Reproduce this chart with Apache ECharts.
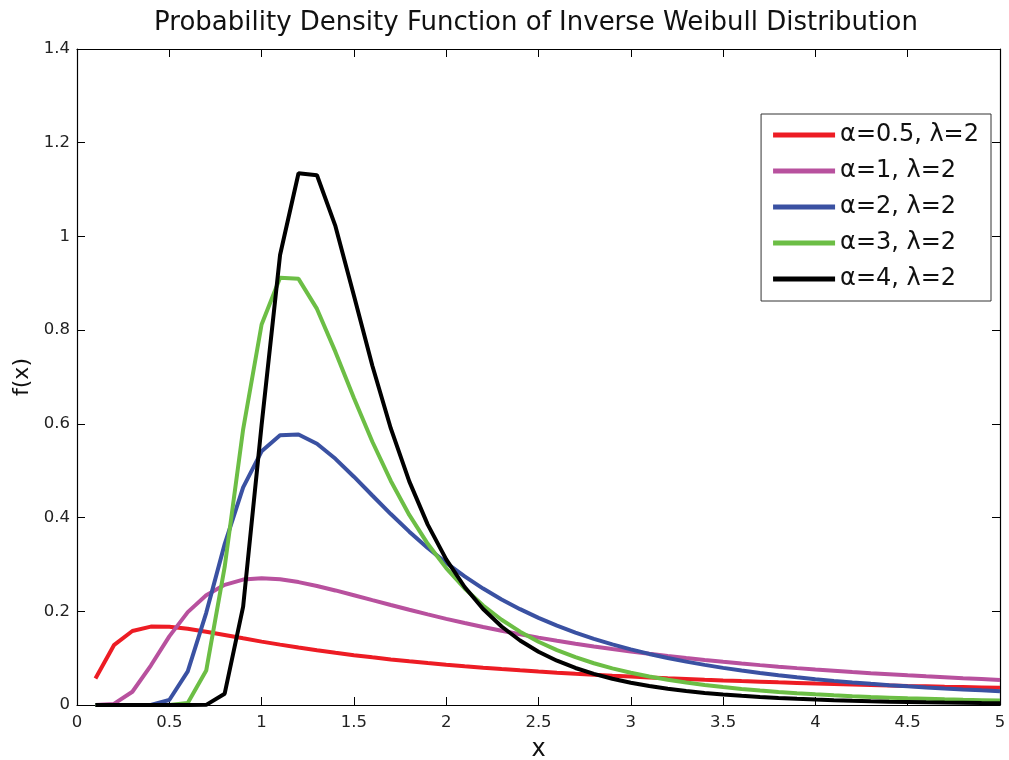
<!DOCTYPE html>
<html>
<head>
<meta charset="utf-8">
<script src="https://cdn.jsdelivr.net/npm/echarts@6/dist/echarts.min.js"></script>
<style>html,body{margin:0;padding:0;background:#fff}#c{width:1009px;height:760px}</style>
</head>
<body>
<div id="c"></div>
<script>
var xs = [0.1,0.2,0.3,0.4,0.5,0.6,0.7,0.8,0.9,1.0,1.1,1.2,1.3,1.4,1.5,1.6,1.7,1.8,1.9,2.0,2.1,2.2,2.3,2.4,2.5,2.6,2.7,2.8,2.9,3.0,3.1,3.2,3.3,3.4,3.5,3.6,3.7,3.8,3.9,4.0,4.1,4.2,4.3,4.4,4.5,4.6,4.7,4.8,4.9,5.0];
var seriesNames = ['\u03b1=0.5, \u03bb=2','\u03b1=1, \u03bb=2','\u03b1=2, \u03bb=2','\u03b1=3, \u03bb=2','\u03b1=4, \u03bb=2'];
var redVals = [0.0567,0.1277,0.1579,0.1673,0.1672,0.1627,0.1564,0.1494,0.1423,0.1353,0.1288,0.1226,0.1168,0.1113,0.1063,0.1017,0.0973,0.0932,0.0895,0.0860,0.0827,0.0796,0.0767,0.0740,0.0714,0.0690,0.0667,0.0646,0.0626,0.0607,0.0588,0.0571,0.0555,0.0539,0.0524,0.0510,0.0497,0.0484,0.0472,0.0460,0.0450,0.0438,0.0427,0.0418,0.0408,0.0399,0.0390,0.0382,0.0374,0.0366];
var pinkVals = [0.0000,0.0023,0.0283,0.0842,0.1465,0.1982,0.2344,0.2565,0.2676,0.2707,0.2683,0.2623,0.2541,0.2445,0.2343,0.2238,0.2134,0.2032,0.1934,0.1839,0.1750,0.1665,0.1585,0.1509,0.1438,0.1371,0.1308,0.1249,0.1193,0.1141,0.1092,0.1045,0.1002,0.0961,0.0922,0.0885,0.0851,0.0818,0.0787,0.0758,0.0731,0.0704,0.0679,0.0656,0.0633,0.0612,0.0592,0.0572,0.0554,0.0536];
var blueVals = [0,0,0,0.0002,0.0107,0.0716,0.1968,0.3433,0.4645,0.5413,0.5756,0.5773,0.5575,0.5254,0.4872,0.4471,0.4075,0.3700,0.3351,0.3033,0.2744,0.2485,0.2253,0.2045,0.1859,0.1693,0.1545,0.1412,0.1293,0.1186,0.1090,0.1004,0.0926,0.0856,0.0792,0.0735,0.0682,0.0635,0.0591,0.0552,0.0515,0.0482,0.0452,0.0423,0.0398,0.0374,0.0352,0.0332,0.0313,0.0295];
var greenVals = [0,0,0,0,0.0000,0.0044,0.0734,0.2946,0.5884,0.8120,0.9120,0.9095,0.8453,0.7536,0.6553,0.5618,0.4781,0.4056,0.3440,0.2921,0.2486,0.2123,0.1819,0.1565,0.1351,0.1172,0.1020,0.0891,0.0782,0.0688,0.0608,0.0538,0.0479,0.0427,0.0382,0.0342,0.0308,0.0277,0.0251,0.0227,0.0206,0.0188,0.0171,0.0157,0.0143,0.0132,0.0121,0.0111,0.0103,0.0094];
var blackVals = [0,0,0,0,0,0,0.0003,0.0241,0.2100,0.5974,0.9603,1.1349,1.1305,1.0219,0.8737,0.7241,0.5902,0.4772,0.3850,0.3109,0.2518,0.2049,0.1675,0.1377,0.1138,0.0946,0.0790,0.0664,0.0561,0.0476,0.0406,0.0348,0.0299,0.0258,0.0224,0.0195,0.0170,0.0149,0.0131,0.0116,0.0102,0.0091,0.0081,0.0072,0.0065,0.0058,0.0052,0.0047,0.0042,0.0038];
var colors = ['#ED1C24','#B8519E','#3A51A2','#6CBE45','#000000'];
var allVals = [redVals,pinkVals,blueVals,greenVals,blackVals];

function pairs(v){ return xs.map(function(x,i){ return [x, v[i]]; }); }
var FONT = '"DejaVu Sans", "Liberation Sans", Arial, sans-serif';
var chart = echarts.init(document.getElementById('c'), null, {renderer:'canvas'});
var baseAxis = {
  axisLine:{show:true, onZero:false, lineStyle:{color:'#000', width:1.2}},
  axisTick:{show:true, inside:true, length:8, lineStyle:{color:'#000', width:1}},
  splitLine:{show:false}
};
var option = {
  backgroundColor:'#fff',
  animation:false,
  title:{text:'Probability Density Function of Inverse Weibull Distribution', left:531, textAlign:'center', top:5,
    textStyle:{fontFamily:FONT, fontSize:26, fontWeight:'normal', color:'#111'}},
  grid:{left:77, right:9, top:49, bottom:55, containLabel:false, outerBoundsMode:'none'},
  legend:{
    orient:'vertical', right:18, top:114, padding:[8,12,9,12],
    backgroundColor:'#fff', borderColor:'#333', borderWidth:1, borderRadius:0,
    itemWidth:62, itemHeight:5, itemGap:10, icon:'rect',
    textStyle:{fontFamily:FONT, fontSize:24, color:'#111', lineHeight:26},
    data:seriesNames
  },
  xAxis:[
    Object.assign({type:'value', min:0, max:5, interval:0.5, position:'bottom',
      name:'x', nameLocation:'middle', nameGap:33,
      nameTextStyle:{fontFamily:FONT, fontSize:24, color:'#111'},
      axisLabel:{fontFamily:FONT, fontSize:16.5, color:'#222', margin:9}}, baseAxis),
    Object.assign({type:'value', min:0, max:5, interval:0.5, position:'top', axisLabel:{show:false}}, baseAxis)
  ],
  yAxis:[
    Object.assign({type:'value', min:0, max:1.4, interval:0.2, position:'left',
      name:'f(x)', nameLocation:'middle', nameGap:42, nameRotate:90,
      nameTextStyle:{fontFamily:FONT, fontSize:22, color:'#111'},
      axisLabel:{fontFamily:FONT, fontSize:16.5, color:'#222', margin:7}}, baseAxis),
    Object.assign({type:'value', min:0, max:1.4, interval:0.2, position:'right', axisLabel:{show:false}}, baseAxis)
  ],
  series: seriesNames.map(function(n,i){
    return {name:n, type:'line', data:pairs(allVals[i]), showSymbol:false, symbol:'none',
      lineStyle:{width:4, color:colors[i]}, itemStyle:{color:colors[i]}, z:2+i, clip:true};
  })
};
chart.setOption(option);
</script>
</body>
</html>
